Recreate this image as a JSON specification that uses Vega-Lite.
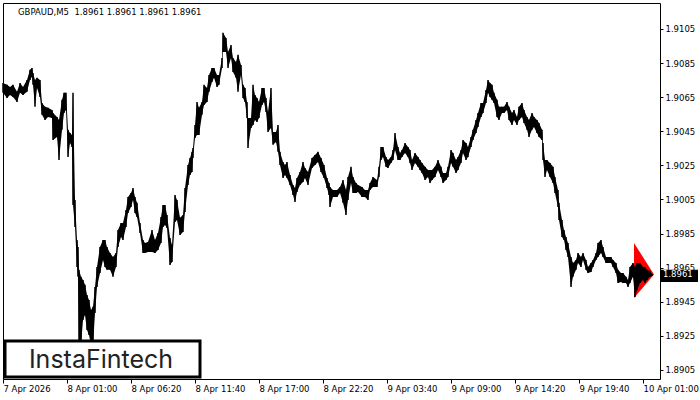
{
  "$schema": "https://vega.github.io/schema/vega-lite/v6.json",
  "width": 657,
  "height": 376,
  "autosize": {"type": "none"},
  "padding": {"left": 3, "top": 3, "right": 40, "bottom": 21},
  "background": "white",
  "title": {"text": "GBPAUD,M5\u00a0 1.8961 1.8961 1.8961 1.8961", "anchor": "start", "frame": "group", "orient": "top", "offset": -13, "dx": 15, "baseline": "top", "font": "DejaVu Sans", "fontSize": 8.5, "fontWeight": "normal", "color": "#000"},
  "datasets": {
    "bars": [
      {"t":"2026-04-07T19:40:00Z","high":1.90733,"low":1.90675},
      {"t":"2026-04-07T20:00:00Z","high":1.90722,"low":1.90645},
      {"t":"2026-04-07T20:15:00Z","high":1.90710,"low":1.90663},
      {"t":"2026-04-07T20:30:00Z","high":1.90722,"low":1.90651},
      {"t":"2026-04-07T20:50:00Z","high":1.90681,"low":1.90622},
      {"t":"2026-04-07T21:05:00Z","high":1.90733,"low":1.90675},
      {"t":"2026-04-07T21:20:00Z","high":1.90710,"low":1.90663},
      {"t":"2026-04-07T21:40:00Z","high":1.90751,"low":1.90681},
      {"t":"2026-04-07T21:55:00Z","high":1.90810,"low":1.90751},
      {"t":"2026-04-07T22:05:00Z","high":1.90821,"low":1.90769},
      {"t":"2026-04-07T22:10:00Z","high":1.90792,"low":1.90722},
      {"t":"2026-04-07T22:20:00Z","high":1.90751,"low":1.90593},
      {"t":"2026-04-07T22:30:00Z","high":1.90763,"low":1.90704},
      {"t":"2026-04-07T22:45:00Z","high":1.90751,"low":1.90651},
      {"t":"2026-04-07T22:55:00Z","high":1.90616,"low":1.90546},
      {"t":"2026-04-07T23:10:00Z","high":1.90593,"low":1.90516},
      {"t":"2026-04-07T23:25:00Z","high":1.90587,"low":1.90534},
      {"t":"2026-04-07T23:45:00Z","high":1.90575,"low":1.90528},
      {"t":"2026-04-07T23:50:00Z","high":1.90557,"low":1.90399},
      {"t":"2026-04-08T00:10:00Z","high":1.90534,"low":1.90416},
      {"t":"2026-04-08T00:20:00Z","high":1.90516,"low":1.90282},
      {"t":"2026-04-08T00:35:00Z","high":1.90634,"low":1.90458},
      {"t":"2026-04-08T00:45:00Z","high":1.90675,"low":1.90557},
      {"t":"2026-04-08T00:55:00Z","high":1.90675,"low":1.90575},
      {"t":"2026-04-08T01:05:00Z","high":1.90458,"low":1.90299},
      {"t":"2026-04-08T01:15:00Z","high":1.90440,"low":1.90381},
      {"t":"2026-04-08T01:25:00Z","high":1.90428,"low":1.90358},
      {"t":"2026-04-08T01:30:00Z","high":1.90675,"low":1.90018},
      {"t":"2026-04-08T01:40:00Z","high":1.90047,"low":1.89889},
      {"t":"2026-04-08T01:50:00Z","high":1.89812,"low":1.89654},
      {"t":"2026-04-08T01:55:00Z","high":1.89771,"low":1.89596},
      {"t":"2026-04-08T02:00:00Z","high":1.89637,"low":1.89226},
      {"t":"2026-04-08T02:10:00Z","high":1.89596,"low":1.89197},
      {"t":"2026-04-08T02:20:00Z","high":1.89578,"low":1.89343},
      {"t":"2026-04-08T02:30:00Z","high":1.89549,"low":1.89373},
      {"t":"2026-04-08T02:40:00Z","high":1.89490,"low":1.89285},
      {"t":"2026-04-08T02:50:00Z","high":1.89461,"low":1.89255},
      {"t":"2026-04-08T03:00:00Z","high":1.89402,"low":1.89197},
      {"t":"2026-04-08T03:10:00Z","high":1.89420,"low":1.89197},
      {"t":"2026-04-08T03:20:00Z","high":1.89537,"low":1.89384},
      {"t":"2026-04-08T03:30:00Z","high":1.89654,"low":1.89537},
      {"t":"2026-04-08T03:45:00Z","high":1.89771,"low":1.89619},
      {"t":"2026-04-08T04:00:00Z","high":1.89812,"low":1.89695},
      {"t":"2026-04-08T04:10:00Z","high":1.89812,"low":1.89654},
      {"t":"2026-04-08T04:20:00Z","high":1.89771,"low":1.89637},
      {"t":"2026-04-08T04:35:00Z","high":1.89736,"low":1.89637},
      {"t":"2026-04-08T04:50:00Z","high":1.89713,"low":1.89596},
      {"t":"2026-04-08T05:05:00Z","high":1.89736,"low":1.89654},
      {"t":"2026-04-08T05:15:00Z","high":1.89871,"low":1.89771},
      {"t":"2026-04-08T05:30:00Z","high":1.89912,"low":1.89830},
      {"t":"2026-04-08T05:40:00Z","high":1.89912,"low":1.89812},
      {"t":"2026-04-08T05:55:00Z","high":1.89988,"low":1.89889},
      {"t":"2026-04-08T06:05:00Z","high":1.90065,"low":1.89971},
      {"t":"2026-04-08T06:20:00Z","high":1.90088,"low":1.90006},
      {"t":"2026-04-08T06:30:00Z","high":1.90117,"low":1.90047},
      {"t":"2026-04-08T06:40:00Z","high":1.90065,"low":1.89971},
      {"t":"2026-04-08T06:50:00Z","high":1.90030,"low":1.89947},
      {"t":"2026-04-08T07:05:00Z","high":1.89912,"low":1.89853},
      {"t":"2026-04-08T07:20:00Z","high":1.89812,"low":1.89736},
      {"t":"2026-04-08T07:30:00Z","high":1.89795,"low":1.89736},
      {"t":"2026-04-08T07:45:00Z","high":1.89801,"low":1.89742},
      {"t":"2026-04-08T08:05:00Z","high":1.89871,"low":1.89742},
      {"t":"2026-04-08T08:20:00Z","high":1.89812,"low":1.89736},
      {"t":"2026-04-08T08:35:00Z","high":1.89853,"low":1.89754},
      {"t":"2026-04-08T08:50:00Z","high":1.89947,"low":1.89795},
      {"t":"2026-04-08T09:00:00Z","high":1.90018,"low":1.89889},
      {"t":"2026-04-08T09:10:00Z","high":1.90018,"low":1.89900},
      {"t":"2026-04-08T09:20:00Z","high":1.89959,"low":1.89883},
      {"t":"2026-04-08T09:35:00Z","high":1.89824,"low":1.89666},
      {"t":"2026-04-08T09:45:00Z","high":1.89783,"low":1.89683},
      {"t":"2026-04-08T10:00:00Z","high":1.90076,"low":1.89918},
      {"t":"2026-04-08T10:10:00Z","high":1.90047,"low":1.89930},
      {"t":"2026-04-08T10:25:00Z","high":1.89942,"low":1.89842},
      {"t":"2026-04-08T10:40:00Z","high":1.89959,"low":1.89859},
      {"t":"2026-04-08T10:50:00Z","high":1.90117,"low":1.89977},
      {"t":"2026-04-08T11:05:00Z","high":1.90252,"low":1.90135},
      {"t":"2026-04-08T11:15:00Z","high":1.90293,"low":1.90194},
      {"t":"2026-04-08T11:25:00Z","high":1.90329,"low":1.90211},
      {"t":"2026-04-08T11:30:00Z","high":1.90352,"low":1.90293},
      {"t":"2026-04-08T11:40:00Z","high":1.90487,"low":1.90411},
      {"t":"2026-04-08T11:50:00Z","high":1.90622,"low":1.90428},
      {"t":"2026-04-08T12:00:00Z","high":1.90587,"low":1.90428},
      {"t":"2026-04-08T12:15:00Z","high":1.90622,"low":1.90546},
      {"t":"2026-04-08T12:25:00Z","high":1.90722,"low":1.90604},
      {"t":"2026-04-08T12:40:00Z","high":1.90704,"low":1.90622},
      {"t":"2026-04-08T12:50:00Z","high":1.90780,"low":1.90681},
      {"t":"2026-04-08T13:05:00Z","high":1.90821,"low":1.90739},
      {"t":"2026-04-08T13:15:00Z","high":1.90821,"low":1.90763},
      {"t":"2026-04-08T13:30:00Z","high":1.90780,"low":1.90710},
      {"t":"2026-04-08T13:40:00Z","high":1.90780,"low":1.90722},
      {"t":"2026-04-08T13:55:00Z","high":1.90880,"low":1.90821},
      {"t":"2026-04-08T14:00:00Z","high":1.91027,"low":1.90915},
      {"t":"2026-04-08T14:15:00Z","high":1.90997,"low":1.90915},
      {"t":"2026-04-08T14:25:00Z","high":1.90915,"low":1.90821},
      {"t":"2026-04-08T14:40:00Z","high":1.90956,"low":1.90880},
      {"t":"2026-04-08T14:50:00Z","high":1.90880,"low":1.90798},
      {"t":"2026-04-08T15:05:00Z","high":1.90856,"low":1.90763},
      {"t":"2026-04-08T15:15:00Z","high":1.90898,"low":1.90681},
      {"t":"2026-04-08T15:30:00Z","high":1.90839,"low":1.90780},
      {"t":"2026-04-08T15:40:00Z","high":1.90722,"low":1.90645},
      {"t":"2026-04-08T15:50:00Z","high":1.90704,"low":1.90622},
      {"t":"2026-04-08T16:00:00Z","high":1.90622,"low":1.90528},
      {"t":"2026-04-08T16:05:00Z","high":1.90528,"low":1.90352},
      {"t":"2026-04-08T16:20:00Z","high":1.90528,"low":1.90469},
      {"t":"2026-04-08T16:30:00Z","high":1.90722,"low":1.90487},
      {"t":"2026-04-08T16:40:00Z","high":1.90663,"low":1.90516},
      {"t":"2026-04-08T16:50:00Z","high":1.90645,"low":1.90504},
      {"t":"2026-04-08T17:00:00Z","high":1.90622,"low":1.90528},
      {"t":"2026-04-08T17:15:00Z","high":1.90704,"low":1.90604},
      {"t":"2026-04-08T17:25:00Z","high":1.90704,"low":1.90622},
      {"t":"2026-04-08T17:35:00Z","high":1.90645,"low":1.90563},
      {"t":"2026-04-08T17:45:00Z","high":1.90563,"low":1.90446},
      {"t":"2026-04-08T18:00:00Z","high":1.90704,"low":1.90469},
      {"t":"2026-04-08T18:10:00Z","high":1.90446,"low":1.90370},
      {"t":"2026-04-08T18:25:00Z","high":1.90446,"low":1.90387},
      {"t":"2026-04-08T18:35:00Z","high":1.90487,"low":1.90329},
      {"t":"2026-04-08T18:45:00Z","high":1.90329,"low":1.90252},
      {"t":"2026-04-08T19:00:00Z","high":1.90270,"low":1.90176},
      {"t":"2026-04-08T19:10:00Z","high":1.90252,"low":1.90194},
      {"t":"2026-04-08T19:20:00Z","high":1.90270,"low":1.90176},
      {"t":"2026-04-08T19:35:00Z","high":1.90194,"low":1.90135},
      {"t":"2026-04-08T19:50:00Z","high":1.90135,"low":1.90076},
      {"t":"2026-04-08T20:00:00Z","high":1.90117,"low":1.90035},
      {"t":"2026-04-08T20:10:00Z","high":1.90176,"low":1.90094},
      {"t":"2026-04-08T20:25:00Z","high":1.90211,"low":1.90135},
      {"t":"2026-04-08T20:40:00Z","high":1.90270,"low":1.90153},
      {"t":"2026-04-08T20:50:00Z","high":1.90235,"low":1.90176},
      {"t":"2026-04-08T21:05:00Z","high":1.90211,"low":1.90135},
      {"t":"2026-04-08T21:25:00Z","high":1.90293,"low":1.90235},
      {"t":"2026-04-08T21:40:00Z","high":1.90311,"low":1.90252},
      {"t":"2026-04-08T21:55:00Z","high":1.90329,"low":1.90270},
      {"t":"2026-04-08T22:10:00Z","high":1.90293,"low":1.90211},
      {"t":"2026-04-08T22:25:00Z","high":1.90252,"low":1.90176},
      {"t":"2026-04-08T22:40:00Z","high":1.90176,"low":1.90117},
      {"t":"2026-04-08T22:50:00Z","high":1.90147,"low":1.90076},
      {"t":"2026-04-08T22:55:00Z","high":1.90123,"low":1.90006},
      {"t":"2026-04-08T23:10:00Z","high":1.90106,"low":1.90065},
      {"t":"2026-04-08T23:30:00Z","high":1.90106,"low":1.90065},
      {"t":"2026-04-08T23:45:00Z","high":1.90123,"low":1.90088},
      {"t":"2026-04-09T00:00:00Z","high":1.90164,"low":1.90030},
      {"t":"2026-04-09T00:15:00Z","high":1.90106,"low":1.89959},
      {"t":"2026-04-09T00:25:00Z","high":1.90182,"low":1.90047},
      {"t":"2026-04-09T00:40:00Z","high":1.90241,"low":1.90147},
      {"t":"2026-04-09T00:50:00Z","high":1.90182,"low":1.90088},
      {"t":"2026-04-09T01:05:00Z","high":1.90147,"low":1.90088},
      {"t":"2026-04-09T01:15:00Z","high":1.90135,"low":1.90094},
      {"t":"2026-04-09T01:35:00Z","high":1.90123,"low":1.90065},
      {"t":"2026-04-09T01:50:00Z","high":1.90106,"low":1.90065},
      {"t":"2026-04-09T02:05:00Z","high":1.90106,"low":1.90047},
      {"t":"2026-04-09T02:15:00Z","high":1.90147,"low":1.90106},
      {"t":"2026-04-09T02:30:00Z","high":1.90182,"low":1.90123},
      {"t":"2026-04-09T02:50:00Z","high":1.90164,"low":1.90123},
      {"t":"2026-04-09T03:00:00Z","high":1.90241,"low":1.90182},
      {"t":"2026-04-09T03:10:00Z","high":1.90358,"low":1.90282},
      {"t":"2026-04-09T03:20:00Z","high":1.90358,"low":1.90299},
      {"t":"2026-04-09T03:35:00Z","high":1.90299,"low":1.90241},
      {"t":"2026-04-09T03:45:00Z","high":1.90282,"low":1.90235},
      {"t":"2026-04-09T04:00:00Z","high":1.90299,"low":1.90264},
      {"t":"2026-04-09T04:10:00Z","high":1.90340,"low":1.90282},
      {"t":"2026-04-09T04:20:00Z","high":1.90440,"low":1.90340},
      {"t":"2026-04-09T04:35:00Z","high":1.90358,"low":1.90282},
      {"t":"2026-04-09T04:45:00Z","high":1.90323,"low":1.90282},
      {"t":"2026-04-09T04:55:00Z","high":1.90340,"low":1.90299},
      {"t":"2026-04-09T05:10:00Z","high":1.90381,"low":1.90323},
      {"t":"2026-04-09T05:25:00Z","high":1.90358,"low":1.90299},
      {"t":"2026-04-09T05:35:00Z","high":1.90340,"low":1.90264},
      {"t":"2026-04-09T05:45:00Z","high":1.90282,"low":1.90223},
      {"t":"2026-04-09T06:00:00Z","high":1.90323,"low":1.90264},
      {"t":"2026-04-09T06:15:00Z","high":1.90299,"low":1.90241},
      {"t":"2026-04-09T06:25:00Z","high":1.90282,"low":1.90223},
      {"t":"2026-04-09T06:35:00Z","high":1.90264,"low":1.90205},
      {"t":"2026-04-09T06:50:00Z","high":1.90241,"low":1.90164},
      {"t":"2026-04-09T07:05:00Z","high":1.90223,"low":1.90182},
      {"t":"2026-04-09T07:15:00Z","high":1.90223,"low":1.90147},
      {"t":"2026-04-09T07:25:00Z","high":1.90223,"low":1.90164},
      {"t":"2026-04-09T07:40:00Z","high":1.90241,"low":1.90182},
      {"t":"2026-04-09T07:55:00Z","high":1.90282,"low":1.90223},
      {"t":"2026-04-09T08:10:00Z","high":1.90241,"low":1.90182},
      {"t":"2026-04-09T08:20:00Z","high":1.90205,"low":1.90147},
      {"t":"2026-04-09T08:35:00Z","high":1.90205,"low":1.90164},
      {"t":"2026-04-09T08:45:00Z","high":1.90241,"low":1.90182},
      {"t":"2026-04-09T09:00:00Z","high":1.90340,"low":1.90264},
      {"t":"2026-04-09T09:10:00Z","high":1.90323,"low":1.90241},
      {"t":"2026-04-09T09:25:00Z","high":1.90282,"low":1.90205},
      {"t":"2026-04-09T09:35:00Z","high":1.90299,"low":1.90223},
      {"t":"2026-04-09T09:50:00Z","high":1.90340,"low":1.90264},
      {"t":"2026-04-09T10:00:00Z","high":1.90399,"low":1.90323},
      {"t":"2026-04-09T10:15:00Z","high":1.90381,"low":1.90282},
      {"t":"2026-04-09T10:25:00Z","high":1.90358,"low":1.90299},
      {"t":"2026-04-09T10:40:00Z","high":1.90416,"low":1.90358},
      {"t":"2026-04-09T10:50:00Z","high":1.90458,"low":1.90399},
      {"t":"2026-04-09T11:05:00Z","high":1.90516,"low":1.90440},
      {"t":"2026-04-09T11:15:00Z","high":1.90557,"low":1.90475},
      {"t":"2026-04-09T11:30:00Z","high":1.90616,"low":1.90534},
      {"t":"2026-04-09T11:40:00Z","high":1.90616,"low":1.90557},
      {"t":"2026-04-09T11:55:00Z","high":1.90692,"low":1.90616},
      {"t":"2026-04-09T12:05:00Z","high":1.90751,"low":1.90675},
      {"t":"2026-04-09T12:15:00Z","high":1.90733,"low":1.90651},
      {"t":"2026-04-09T12:25:00Z","high":1.90722,"low":1.90634},
      {"t":"2026-04-09T12:35:00Z","high":1.90675,"low":1.90616},
      {"t":"2026-04-09T12:50:00Z","high":1.90634,"low":1.90534},
      {"t":"2026-04-09T13:00:00Z","high":1.90593,"low":1.90516},
      {"t":"2026-04-09T13:15:00Z","high":1.90593,"low":1.90557},
      {"t":"2026-04-09T13:25:00Z","high":1.90593,"low":1.90557},
      {"t":"2026-04-09T13:40:00Z","high":1.90622,"low":1.90575},
      {"t":"2026-04-09T13:50:00Z","high":1.90593,"low":1.90516},
      {"t":"2026-04-09T14:05:00Z","high":1.90557,"low":1.90487},
      {"t":"2026-04-09T14:15:00Z","high":1.90575,"low":1.90516},
      {"t":"2026-04-09T14:30:00Z","high":1.90534,"low":1.90487},
      {"t":"2026-04-09T14:40:00Z","high":1.90593,"low":1.90516},
      {"t":"2026-04-09T14:55:00Z","high":1.90616,"low":1.90534},
      {"t":"2026-04-09T15:05:00Z","high":1.90575,"low":1.90499},
      {"t":"2026-04-09T15:20:00Z","high":1.90534,"low":1.90458},
      {"t":"2026-04-09T15:30:00Z","high":1.90516,"low":1.90416},
      {"t":"2026-04-09T15:45:00Z","high":1.90557,"low":1.90458},
      {"t":"2026-04-09T15:55:00Z","high":1.90534,"low":1.90475},
      {"t":"2026-04-09T16:10:00Z","high":1.90516,"low":1.90440},
      {"t":"2026-04-09T16:20:00Z","high":1.90499,"low":1.90416},
      {"t":"2026-04-09T16:35:00Z","high":1.90458,"low":1.90399},
      {"t":"2026-04-09T16:40:00Z","high":1.90381,"low":1.90282},
      {"t":"2026-04-09T16:50:00Z","high":1.90282,"low":1.90182},
      {"t":"2026-04-09T17:00:00Z","high":1.90282,"low":1.90223},
      {"t":"2026-04-09T17:15:00Z","high":1.90264,"low":1.90182},
      {"t":"2026-04-09T17:30:00Z","high":1.90241,"low":1.90147},
      {"t":"2026-04-09T17:40:00Z","high":1.90182,"low":1.90088},
      {"t":"2026-04-09T17:55:00Z","high":1.90106,"low":1.90006},
      {"t":"2026-04-09T18:00:00Z","high":1.90030,"low":1.89930},
      {"t":"2026-04-09T18:15:00Z","high":1.89930,"low":1.89830},
      {"t":"2026-04-09T18:25:00Z","high":1.89871,"low":1.89812},
      {"t":"2026-04-09T18:35:00Z","high":1.89830,"low":1.89754},
      {"t":"2026-04-09T18:45:00Z","high":1.89795,"low":1.89713},
      {"t":"2026-04-09T19:00:00Z","high":1.89713,"low":1.89537},
      {"t":"2026-04-09T19:10:00Z","high":1.89677,"low":1.89596},
      {"t":"2026-04-09T19:25:00Z","high":1.89695,"low":1.89637},
      {"t":"2026-04-09T19:35:00Z","high":1.89736,"low":1.89677},
      {"t":"2026-04-09T19:50:00Z","high":1.89713,"low":1.89654},
      {"t":"2026-04-09T20:00:00Z","high":1.89736,"low":1.89695},
      {"t":"2026-04-09T20:15:00Z","high":1.89695,"low":1.89637},
      {"t":"2026-04-09T20:25:00Z","high":1.89654,"low":1.89619},
      {"t":"2026-04-09T20:40:00Z","high":1.89677,"low":1.89625},
      {"t":"2026-04-09T20:50:00Z","high":1.89695,"low":1.89654},
      {"t":"2026-04-09T21:05:00Z","high":1.89736,"low":1.89695},
      {"t":"2026-04-09T21:15:00Z","high":1.89795,"low":1.89713},
      {"t":"2026-04-09T21:30:00Z","high":1.89812,"low":1.89736},
      {"t":"2026-04-09T21:40:00Z","high":1.89771,"low":1.89713},
      {"t":"2026-04-09T21:55:00Z","high":1.89713,"low":1.89677},
      {"t":"2026-04-09T22:05:00Z","high":1.89713,"low":1.89677},
      {"t":"2026-04-09T22:20:00Z","high":1.89713,"low":1.89677},
      {"t":"2026-04-09T22:30:00Z","high":1.89695,"low":1.89654},
      {"t":"2026-04-09T22:45:00Z","high":1.89677,"low":1.89619},
      {"t":"2026-04-09T22:55:00Z","high":1.89637,"low":1.89560},
      {"t":"2026-04-09T23:10:00Z","high":1.89619,"low":1.89566},
      {"t":"2026-04-09T23:20:00Z","high":1.89619,"low":1.89560},
      {"t":"2026-04-09T23:35:00Z","high":1.89596,"low":1.89560},
      {"t":"2026-04-09T23:45:00Z","high":1.89578,"low":1.89537},
      {"t":"2026-04-09T23:55:00Z","high":1.89654,"low":1.89560},
      {"t":"2026-04-10T00:10:00Z","high":1.89677,"low":1.89596},
      {"t":"2026-04-10T00:20:00Z","high":1.89654,"low":1.89478},
      {"t":"2026-04-10T00:30:00Z","high":1.89677,"low":1.89519},
      {"t":"2026-04-10T00:45:00Z","high":1.89677,"low":1.89560},
      {"t":"2026-04-10T01:00:00Z","high":1.89654,"low":1.89578},
      {"t":"2026-04-10T01:10:00Z","high":1.89654,"low":1.89560},
      {"t":"2026-04-10T01:20:00Z","high":1.89637,"low":1.89578},
      {"t":"2026-04-10T01:35:00Z","high":1.89631,"low":1.89596},
      {"t":"2026-04-10T01:45:00Z","high":1.89613,"low":1.89601}
    ],
    "pattern": [
      {"t":"2026-04-10T00:15:00Z","high":1.89795,"low":1.89472},
      {"t":"2026-04-10T01:55:00Z","high":1.8961,"low":1.8961}
    ],
    "logo": [
      {"t":"2026-04-07T19:50:00Z","t2":"2026-04-08T12:05:00Z","high":1.8922,"low":1.89009,"tc":"2026-04-08T03:50:00Z","base":1.89062,"label":"InstaFintech"}
    ],
    "last": [
      {"t":"2026-04-10T02:25:00Z","t2":"2026-04-10T05:35:00Z","high":1.89637,"low":1.89566,"tl":"2026-04-10T02:40:00Z","price":1.8961,"label":"1.8961"}
    ]
  },
  "encoding": {
    "x": {
      "field": "t", "type": "temporal", "title": null,
      "scale": {"type": "utc", "domain": [{"year":2026,"month":4,"date":7,"hours":19,"minutes":40,"utc":true},{"year":2026,"month":4,"date":10,"hours":2,"minutes":25,"utc":true}], "nice": false},
      "axis": {
        "values": [
          {"year":2026,"month":4,"date":7,"hours":19,"minutes":40,"utc":true},
          {"year":2026,"month":4,"date":8,"hours":1,"minutes":0,"utc":true},
          {"year":2026,"month":4,"date":8,"hours":6,"minutes":20,"utc":true},
          {"year":2026,"month":4,"date":8,"hours":11,"minutes":40,"utc":true},
          {"year":2026,"month":4,"date":8,"hours":17,"minutes":0,"utc":true},
          {"year":2026,"month":4,"date":8,"hours":22,"minutes":20,"utc":true},
          {"year":2026,"month":4,"date":9,"hours":3,"minutes":40,"utc":true},
          {"year":2026,"month":4,"date":9,"hours":9,"minutes":0,"utc":true},
          {"year":2026,"month":4,"date":9,"hours":14,"minutes":20,"utc":true},
          {"year":2026,"month":4,"date":9,"hours":19,"minutes":40,"utc":true},
          {"year":2026,"month":4,"date":10,"hours":1,"minutes":0,"utc":true}
        ],
        "labelExpr": "datum.index == 0 ? '7 Apr 2026' : utcFormat(datum.value, '%-d %b %H:%M')",
        "labelAlign": "left", "labelBaseline": "top", "labelPadding": 1, "labelFlush": false, "labelOverlap": false,
        "tickSize": 4, "domain": false, "grid": false
      }
    },
    "y": {
      "field": "high", "type": "quantitative", "title": null,
      "scale": {"domain": [1.88997, 1.91202], "nice": false, "zero": false},
      "axis": {
        "orient": "right",
        "values": [1.8905, 1.8925, 1.8945, 1.8965, 1.8985, 1.9005, 1.9025, 1.9045, 1.9065, 1.9085, 1.9105],
        "format": ".4f", "tickSize": 3, "labelPadding": 2, "domain": false, "grid": false, "labelFlush": false, "labelOverlap": false
      }
    },
    "y2": {"field": "low"}
  },
  "layer": [
    {"data": {"name": "pattern"}, "mark": {"type": "area", "color": "#ff0000", "opacity": 1}},
    {"data": {"name": "bars"}, "mark": {"type": "area", "color": "#000000", "opacity": 1}},
    {"data": {"name": "bars"}, "mark": {"type": "rule", "color": "#000000", "strokeWidth": 1.5}},
    {"data": {"values": [{}]}, "mark": {"type": "rule", "color": "#000000", "strokeWidth": 1}, "encoding": {"x": null, "y": {"datum": 1.8961}, "y2": null}},
    {"data": {"name": "logo"}, "mark": {"type": "rect", "fill": "white", "stroke": "#000000", "strokeWidth": 3}, "encoding": {"x2": {"field": "t2"}}},
    {"data": {"name": "logo"}, "mark": {"type": "text", "font": "Inter", "fontSize": 25, "color": "#222222", "align": "center", "baseline": "alphabetic"}, "encoding": {"x": {"field": "tc", "type": "temporal"}, "y": {"field": "base", "type": "quantitative"}, "y2": null, "text": {"field": "label"}}},
    {"data": {"name": "last"}, "mark": {"type": "rect", "fill": "#000000", "clip": false}, "encoding": {"x2": {"field": "t2"}}},
    {"data": {"name": "last"}, "mark": {"type": "text", "font": "DejaVu Sans", "fontSize": 8.5, "color": "white", "align": "left", "baseline": "middle"}, "encoding": {"x": {"field": "tl", "type": "temporal"}, "y": {"field": "price", "type": "quantitative"}, "y2": null, "text": {"field": "label"}}}
  ],
  "config": {
    "font": "DejaVu Sans",
    "view": {"stroke": "#000000", "strokeWidth": 1},
    "axis": {"labelFont": "DejaVu Sans", "labelFontSize": 8.5, "labelColor": "#000000", "tickColor": "#000000", "tickWidth": 1}
  }
}
